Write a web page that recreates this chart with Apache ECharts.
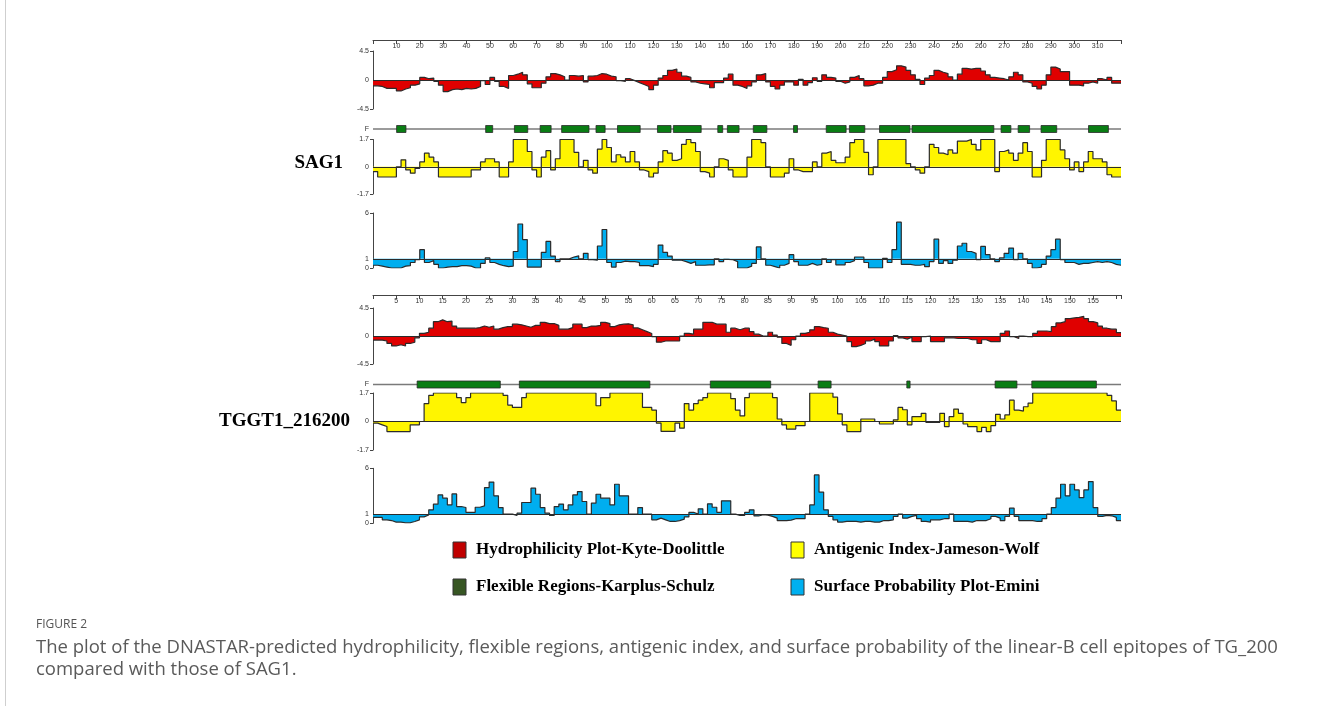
<!DOCTYPE html>
<html>
<head>
<meta charset="utf-8">
<script src="https://cdn.jsdelivr.net/npm/echarts@6/dist/echarts.min.js"></script>
<style>
html,body{margin:0;padding:0;background:#fff;}
#chart{width:1328px;height:706px;}
</style>
</head>
<body>
<div id="chart"></div>
<script>
// ---------- DATA ----------
// SAG1: values per 2-residue bin (residues 0..320)
const sag1Length = 320;
const sag1BinSize = 2;
const sag1Ticks = [10,20,30,40,50,60,70,80,90,100,110,120,130,140,150,160,170,180,190,200,210,220,230,240,250,260,270,280,290,300,310];
const sag1Hydro = [
 -0.9,-1.0,-1.3,-1.3,-1.3,-1.7,-1.4,-1.2,-0.8,-0.6,
 0.4,0.2,0.3,-0.2,-0.8,-1.8,-1.5,-1.4,-1.5,-1.3,
 -1.4,-1.3,-1.0,-0.1,-0.7,0.4,-0.2,-1.0,-1.3,0.7,
 0.9,1.2,0.8,-0.6,-1.2,-1.2,-0.5,0.5,1.0,0.8,
 0.5,0.0,0.7,0.6,0.7,-0.3,0.6,0.7,1.0,0.9,
 0.6,0.5,-0.1,-0.2,0.2,-0.1,-0.4,-0.7,-1.0,-1.5,
 -0.8,0.3,0.7,1.5,1.7,1.2,0.6,0.4,-0.3,-0.5,
 -0.6,-0.7,-1.2,-0.4,-0.4,0.3,0.9,-0.8,-1.0,-1.3,
 -0.9,-0.3,0.8,1.0,-0.3,-1.0,-1.4,-0.8,-0.3,-0.3,
 -0.8,0.1,-0.8,-0.4,0.35,-0.2,0.8,0.4,0.3,-0.2,
 -0.5,-0.3,0.4,0.7,0.2,-0.9,-0.8,-0.5,-0.5,0.4,
 1.3,1.6,2.2,2.0,1.5,0.8,0.1,-0.7,0.3,0.7,
 1.5,1.2,1.0,0.5,0.0,0.9,1.8,1.7,1.8,1.8,
 1.4,0.8,0.4,0.3,0.2,0.0,0.5,1.2,0.8,-0.3,
 -0.5,-1.0,-1.4,-0.8,0.8,2.0,1.7,1.3,1.3,-0.8,
 -0.8,-0.9,-0.5,-0.3,-0.5,0.2,0.0,0.4,-0.5,-0.5
];
const sag1Antigenic = [
 -0.3,-0.64,-0.64,-0.64,-0.64,0,0.43,-0.2,-0.4,-0.1,
 0.3,0.85,0.6,0.3,-0.64,-0.64,-0.64,-0.64,-0.64,-0.64,
 -0.64,-0.2,-0.2,0.3,0.5,0.5,0.3,-0.64,-0.64,0.3,
 1.7,1.7,1.7,0.95,-0.2,-0.64,0.6,1.0,-0.2,0.5,
 1.7,1.7,1.7,0.9,0.0,0.4,-0.2,-0.4,1.1,1.7,
 1.2,0.3,0.75,0.6,0.3,0.95,0.3,-0.2,-0.3,-0.64,
 -0.4,0.3,1.0,0.85,0.4,0.5,1.4,1.7,1.5,0.95,
 -0.3,-0.4,-0.64,0.0,0.5,0.4,-0.2,-0.64,-0.64,-0.64,
 0.6,1.7,1.7,1.5,0.0,-0.64,-0.64,-0.64,-0.4,0.5,
 -0.2,-0.3,-0.3,-0.3,0.3,0.0,0.85,0.95,0.4,0.25,
 0.25,0.6,1.5,1.7,1.7,0.9,-0.5,0.0,1.7,1.7,
 1.7,1.7,1.7,1.7,0.2,0.0,-0.2,-0.4,0.0,1.4,
 1.2,0.85,0.75,1.05,0.85,1.6,1.6,1.7,1.4,1.05,
 1.7,1.7,1.7,-0.3,0.95,1.05,0.85,0.4,0.85,1.5,
 0.95,-0.64,-0.64,0.4,1.7,1.7,1.7,1.05,0.5,-0.2,
 0.3,-0.3,0.3,0.95,0.5,0.5,0.3,-0.5,-0.64,-0.64
];
const sag1Surface = [
 0.3,0.2,0.1,0.0,0.0,0.0,0.2,0.25,0.6,0.9,
 2.0,0.6,0.8,0.4,0.0,0.1,0.15,0.15,0.25,0.25,
 0.2,0.0,0.0,0.5,1.1,0.6,0.4,0.25,0.15,0.2,
 1.8,4.8,3.1,0.1,0.1,0.1,1.7,2.9,1.3,0.7,
 1.0,1.0,1.2,1.33,1.0,1.6,0.9,0.85,2.4,4.2,
 0.6,0.1,0.6,0.75,0.7,0.7,0.6,0.25,0.25,0.15,
 0.4,2.5,1.7,1.3,0.85,0.85,0.7,0.5,0.7,0.3,
 0.3,0.35,0.35,1.0,0.7,0.95,0.9,0.7,0.0,0.0,
 0.2,0.5,2.3,1.0,0.3,0.15,0.0,0.3,0.5,1.45,
 0.7,0.3,0.3,0.5,0.3,0.4,1.0,0.6,0.9,0.35,
 0.35,0.6,0.8,1.2,1.2,0.6,0.0,0.0,0.0,1.05,
 0.6,2.0,5.0,0.4,0.4,0.3,0.3,0.4,0.15,0.7,
 3.15,0.5,0.8,0.5,0.85,2.4,2.7,1.8,1.6,0.9,
 2.35,1.45,1.0,0.7,1.1,1.6,2.17,0.9,1.6,1.0,
 0.5,0.0,0.1,0.4,1.3,2.0,3.15,0.9,0.6,0.6,
 0.4,0.5,0.5,0.6,0.7,0.6,0.7,0.6,0.4,0.3
];
const sag1Flexible = [[10.1,14.1],[48.2,51.2],[60.5,66.2],[71.5,76.2],[80.7,92.4],[95.4,99.3],[104.6,114.3],[121.7,127.5],[128.5,140.4],[147.5,149.6],[151.6,156.6],[162.7,168.5],[179.9,181.6],[193.9,202.4],[203.8,210.4],[216.7,229.7],[230.6,265.6],[268.7,272.9],[276.0,280.9],[285.8,292.5],[306.1,314.6]];

// TGGT1_216200: values per residue (0..161)
const tgLength = 161;
const tgBinSize = 1;
const tgTicks = [5,10,15,20,25,30,35,40,45,50,55,60,65,70,75,80,85,90,95,100,105,110,115,120,125,130,135,140,145,150,155];
const tgHydro = [
 -0.65,-0.65,-0.8,-1.2,-1.6,-1.4,-1.6,-1.2,-1.0,-0.3,
 0.43,0.6,1.25,2.3,2.6,2.3,2.4,1.6,1.25,1.25,
 1.25,1.25,1.35,1.6,1.4,1.6,1.1,1.35,1.5,1.5,
 1.9,1.8,1.6,1.4,1.7,1.7,2.2,2.0,2.0,1.7,
 1.1,1.1,1.35,1.9,1.9,1.35,1.6,1.6,1.7,2.2,
 2.0,1.5,1.8,1.9,1.95,1.8,1.3,1.0,0.7,0.4,
 -0.1,-1.0,-0.8,-0.8,-0.8,-0.8,0.0,0.43,0.3,1.1,
 1.1,2.2,2.2,1.9,1.9,1.9,0.6,1.25,1.0,1.25,
 1.25,0.7,0.3,0.0,0.0,0.6,0.15,-0.2,-1.2,-1.5,
 -0.6,0.0,0.43,0.6,1.0,1.5,1.35,1.25,0.6,0.3,
 0.15,0.0,-0.9,-1.7,-1.5,-1.2,-0.8,-0.5,-0.9,-1.6,
 -1.6,-0.8,0.05,-0.3,-0.5,-0.2,-0.9,-0.9,-0.1,0.0,
 -0.9,-0.9,-0.9,-0.3,-0.3,-0.4,-0.4,-0.4,-0.6,-0.6,
 -1.2,-0.6,-0.9,-0.9,-0.9,0.43,0.8,-0.1,-0.4,0.0,
 -0.1,-0.1,0.43,0.8,0.8,0.7,1.5,2.1,2.3,2.8,
 2.9,3.0,3.15,2.8,2.3,2.1,1.6,1.25,1.1,1.1,
 0.55
];
const tgAntigenic = [
 -0.1,-0.2,-0.3,-0.6,-0.6,-0.6,-0.6,-0.6,-0.2,-0.2,
 0.0,1.07,1.56,1.7,1.7,1.7,1.7,1.7,1.43,1.13,
 1.43,1.7,1.7,1.7,1.7,1.7,1.7,1.7,1.56,0.98,
 0.84,0.84,1.43,1.7,1.7,1.7,1.7,1.7,1.7,1.7,
 1.7,1.7,1.7,1.7,1.7,1.7,1.7,1.7,0.94,1.43,
 1.43,1.7,1.7,1.7,1.7,1.7,1.7,1.7,0.84,0.84,
 0.68,-0.1,-0.59,-0.59,-0.59,-0.1,-0.4,1.07,0.68,1.07,
 1.27,1.43,1.7,1.7,1.7,1.7,1.7,1.37,0.68,0.33,
 1.43,1.7,1.7,1.7,1.7,1.7,1.43,0.15,-0.2,-0.45,
 -0.45,-0.25,-0.25,0.0,1.7,1.7,1.7,1.7,1.7,1.45,
 0.45,-0.2,-0.6,-0.6,-0.6,0.15,0.15,0.15,0.0,-0.15,
 -0.15,-0.15,0.1,0.84,0.7,-0.2,0.29,0.29,0.49,-0.05,
 -0.05,-0.05,0.49,-0.3,0.29,0.74,0.49,-0.15,-0.3,-0.3,
 -0.6,-0.35,-0.6,-0.25,0.43,0.15,0.39,1.27,0.68,0.62,
 0.88,1.1,1.7,1.7,1.7,1.7,1.7,1.7,1.7,1.7,
 1.7,1.7,1.7,1.7,1.7,1.7,1.7,1.7,1.56,1.23,
 0.68
];
const tgSurface = [
 0.64,0.64,0.38,0.3,0.13,0.13,0.06,0.06,0.2,0.38,
 0.7,0.9,1.47,2.09,3.1,2.74,2.0,3.2,1.83,1.72,
 1.2,1.2,1.75,1.9,3.9,4.5,3.0,1.72,1.0,1.0,
 0.86,1.1,2.27,2.27,3.83,3.17,1.72,1.1,0.86,1.83,
 2.1,1.47,2.0,3.1,3.46,2.38,1.0,2.2,3.17,2.74,
 2.74,2.0,4.26,3.0,3.0,1.0,1.0,1.72,1.0,1.0,
 0.38,0.56,0.38,0.2,0.2,0.3,0.45,0.7,1.2,1.0,
 1.58,1.0,2.12,1.75,1.2,2.45,2.45,1.0,0.86,0.86,
 1.2,1.47,0.8,0.93,0.9,0.75,0.56,0.3,0.3,0.35,
 0.5,0.5,0.5,1.0,2.0,5.28,3.4,1.47,0.75,0.38,
 0.13,0.2,0.2,0.2,0.13,0.2,0.2,0.13,0.13,0.3,
 0.3,0.38,0.75,1.0,0.56,0.75,0.86,0.5,0.2,0.13,
 0.38,0.38,0.5,0.5,1.0,0.2,0.2,0.2,0.13,0.3,
 0.3,0.3,0.5,0.75,0.56,0.3,0.75,1.65,0.75,0.3,
 0.3,0.3,0.2,0.2,0.5,1.0,1.72,2.74,4.26,3.0,
 4.26,3.64,2.8,3.64,4.55,1.72,0.75,0.86,0.82,0.64,
 0.3
];
const tgFlexible = [[9.5,27.4],[31.5,59.6],[72.6,85.6],[95.8,98.6],[114.9,115.6],[133.9,138.6],[141.8,155.7]];

const proteinNames = ['SAG1', 'TGGT1_216200'];
const legendNames = ['Hydrophilicity Plot-Kyte-Doolittle', 'Antigenic Index-Jameson-Wolf', 'Flexible Regions-Karplus-Schulz', 'Surface Probability Plot-Emini'];
const hydroRange = [-4.5, 4.5];
const antigenRange = [-1.7, 1.7];
const surfaceRange = [0, 6];
const surfaceBase = 1;
const captionTitle = 'FIGURE 2';
const captionLines = [
 'The plot of the DNASTAR-predicted hydrophilicity, flexible regions, antigenic index, and surface probability of the linear-B cell epitopes of TG_200',
 'compared with those of SAG1.'
];

// ---------- STYLE ----------
const C = {
  red: '#e00000', yellow: '#fff500', blue: '#00aeef', green: '#0a7d14',
  legRed: '#c00000', legYellow: '#ffff00', legGreen: '#375623', legBlue: '#00b0f0',
  line: '#2b2b2b', axis: '#444', text: '#333'
};
const LEFT = 373, RIGHT = 207;

function steps(vals, bin) {
  const pts = vals.map((v, i) => [i * bin, v]);
  pts.push([vals.length * bin, vals[vals.length - 1]]);
  return pts;
}

const grids = [], xAxes = [], yAxes = [], series = [];

function baseLine(val, color, width) {
  return { silent: true, symbol: 'none', animation: false, label: { show: false },
    lineStyle: { color: color, width: width, type: 'solid' }, data: [{ yAxis: val }] };
}

function addPanel(top, height, maxX, kind, vals, bin, topAxis) {
  const gi = grids.length;
  grids.push({ left: LEFT, right: RIGHT, top: top, height: height, containLabel: false });
  if (topAxis) {
    xAxes.push({ type: 'value', gridIndex: gi, position: 'top', offset: topAxis.offset,
      min: 0, max: maxX, interval: topAxis.interval,
      axisLine: { show: true, onZero: false, lineStyle: { color: C.axis, width: 1 } },
      axisTick: { show: true, inside: true, length: 4, lineStyle: { color: C.axis } },
      axisLabel: { inside: true, margin: 3, fontSize: 7, color: C.text, fontFamily: 'Liberation Sans',
        customValues: topAxis.ticks },
      splitLine: { show: false } });
  } else {
    xAxes.push({ type: 'value', gridIndex: gi, min: 0, max: maxX, show: false, splitLine: { show: false } });
  }
  const ylab = { fontSize: 7, color: C.text, margin: 4, fontFamily: 'Liberation Sans' };
  const yl = { show: true, lineStyle: { color: C.axis, width: 1 } };
  if (kind === 'hydro' || kind === 'antigen') {
    const rg = kind === 'hydro' ? hydroRange : antigenRange;
    yAxes.push({ type: 'value', gridIndex: gi, min: rg[0], max: rg[1],
      axisLine: yl, axisTick: { show: true, length: 3, customValues: [rg[0], rg[1]], lineStyle: { color: C.axis } },
      axisLabel: Object.assign({ customValues: [rg[0], 0, rg[1]] }, ylab), splitLine: { show: false } });
    series.push({ type: 'line', xAxisIndex: gi, yAxisIndex: gi, data: steps(vals, bin), step: 'end',
      symbol: 'none', silent: true, animation: false,
      lineStyle: { color: C.line, width: 1.2 },
      areaStyle: { color: kind === 'hydro' ? C.red : C.yellow, opacity: 1, origin: 0 },
      markLine: baseLine(0, C.line, 1) });
  } else if (kind === 'surface') {
    yAxes.push({ type: 'value', gridIndex: gi, min: surfaceRange[0], max: surfaceRange[1],
      axisLine: yl, axisTick: { show: true, length: 3, customValues: [surfaceRange[0], surfaceRange[1]], lineStyle: { color: C.axis } },
      axisLabel: Object.assign({ customValues: [0, surfaceBase, surfaceRange[1]] }, ylab), splitLine: { show: false } });
    series.push({ type: 'line', xAxisIndex: gi, yAxisIndex: gi, data: steps(vals, bin), step: 'end',
      symbol: 'none', silent: true, animation: false,
      lineStyle: { color: C.line, width: 1.2 },
      areaStyle: { color: C.blue, opacity: 1, origin: surfaceBase },
      markLine: baseLine(surfaceBase, C.line, 1) });
  } else if (kind === 'flex') {
    yAxes.push({ type: 'value', gridIndex: gi, min: -1, max: 1,
      axisLine: { show: false }, axisTick: { show: false },
      axisLabel: Object.assign({ customValues: [0], formatter: () => 'F' }, ylab), splitLine: { show: false } });
    // the track line under the boxes
    series.push({ type: 'line', xAxisIndex: gi, yAxisIndex: gi, data: [[0, 0], [maxX, 0]], z: 1,
      symbol: 'none', silent: true, animation: false, lineStyle: { color: '#7a7a7a', width: 1.5 } });
    series.push({ type: 'custom', xAxisIndex: gi, yAxisIndex: gi, data: vals, silent: true, animation: false, z: 3,
      encode: { x: [0, 1] },
      renderItem: function (params, api) {
        const s = api.coord([api.value(0), 0]);
        const e = api.coord([api.value(1), 0]);
        const h = height;
        return { type: 'rect', shape: { x: s[0], y: s[1] - h / 2, width: e[0] - s[0], height: h },
          style: { fill: C.green, stroke: '#2a2a2a', lineWidth: 0.8 } };
      } });
  }
}

// SAG1 block
addPanel(51, 58, sag1Length, 'hydro', sag1Hydro, sag1BinSize, { offset: 11, interval: 10, ticks: sag1Ticks });
addPanel(125.5, 7, sag1Length, 'flex', sag1Flexible, 1, null);
addPanel(139.5, 54.5, sag1Length, 'antigen', sag1Antigenic, sag1BinSize, null);
addPanel(213, 55, sag1Length, 'surface', sag1Surface, sag1BinSize, null);
// TGGT1 block
addPanel(308, 56, tgLength, 'hydro', tgHydro, tgBinSize, { offset: 13, interval: 5, ticks: tgTicks });
addPanel(381, 7, tgLength, 'flex', tgFlexible, 1, null);
addPanel(393, 57, tgLength, 'antigen', tgAntigenic, tgBinSize, null);
addPanel(468.3, 55, tgLength, 'surface', tgSurface, tgBinSize, null);

// ---------- GRAPHICS (labels, legend, caption) ----------
const serifBold = { fontFamily: '"Liberation Serif", "Times New Roman", serif', fontWeight: 'bold', fill: '#000' };
const graphics = [
  { type: 'line', shape: { x1: 5.5, y1: 0, x2: 5.5, y2: 706 }, style: { stroke: '#cfcfcf', lineWidth: 1 }, silent: true },
  { type: 'text', x: 343, y: 163, style: Object.assign({ text: proteinNames[0], fontSize: 19, align: 'right', verticalAlign: 'middle' }, serifBold) },
  { type: 'text', x: 350, y: 421, style: Object.assign({ text: proteinNames[1], fontSize: 19, align: 'right', verticalAlign: 'middle' }, serifBold) }
];
const legendSpec = [
  { name: legendNames[0], color: C.legRed, x: 453, y: 550 },
  { name: legendNames[1], color: C.legYellow, x: 791, y: 550 },
  { name: legendNames[2], color: C.legGreen, x: 453, y: 587 },
  { name: legendNames[3], color: C.legBlue, x: 791, y: 587 }
];
legendSpec.forEach(l => {
  graphics.push({ type: 'rect', shape: { x: l.x, y: l.y - 8, width: 13, height: 16 },
    style: { fill: l.color, stroke: '#333', lineWidth: 1 } });
  graphics.push({ type: 'text', x: l.x + 23, y: l.y,
    style: Object.assign({ text: l.name, fontSize: 17, align: 'left', verticalAlign: 'middle' }, serifBold) });
});
const capFont = '"Open Sans", "Noto Sans", sans-serif';
graphics.push({ type: 'text', x: 36, y: 625, style: { text: captionTitle, fontSize: 12, fontFamily: capFont, fill: '#555', verticalAlign: 'middle' } });
graphics.push({ type: 'text', x: 36, y: 648, style: { text: captionLines[0], fontSize: 18.5, fontFamily: capFont, fill: '#5a5a5a', verticalAlign: 'middle' } });
graphics.push({ type: 'text', x: 36, y: 670, style: { text: captionLines[1], fontSize: 18.5, fontFamily: capFont, fill: '#5a5a5a', verticalAlign: 'middle' } });

const chart = echarts.init(document.getElementById('chart'), null, { renderer: 'canvas', width: 1328, height: 706 });
chart.setOption({
  animation: false,
  backgroundColor: '#fff',
  grid: grids,
  xAxis: xAxes,
  yAxis: yAxes,
  series: series,
  graphic: graphics
});
</script>
</body>
</html>
